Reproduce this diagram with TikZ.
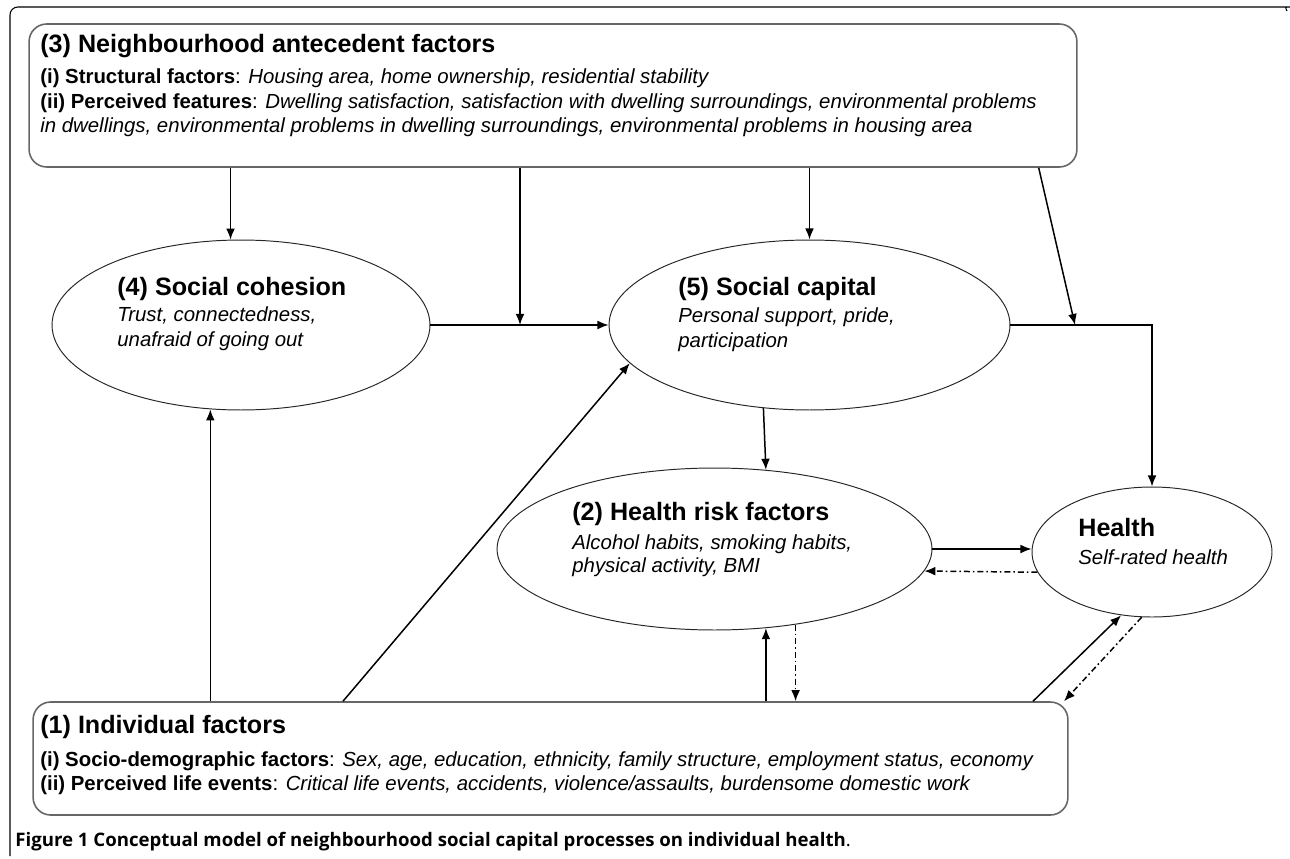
\documentclass[tikz,border=0pt]{standalone}
\usepackage{fontspec}
\setmainfont{Liberation Sans}
\newfontfamily\capfont{Open Sans}
\usetikzlibrary{arrows.meta,shapes.geometric}

\tikzset{
    frame/.style={line width=0.6pt},
    factorbox/.style={draw=black!60,line width=0.9pt,rounded corners=10pt,inner sep=0pt},
    oval/.style={draw=black!85,line width=0.55pt,ellipse,inner sep=0pt},
    hd/.style={anchor=base west,inner sep=0pt,font=\fontsize{14.3}{16}\selectfont\bfseries},
    tx/.style={anchor=base west,inner sep=0pt,font=\fontsize{11.6}{13}\selectfont},
    arr/.style={line width=0.85pt,-{Latex[length=6.3pt,width=5pt]}},
    fb/.style={arr,dash pattern=on 3.4pt off 1.7pt on 0.9pt off 1.7pt},
}

\begin{document}
\begin{tikzpicture}[x=0.02cm,y=-0.02cm]
    \useasboundingbox (0,0) rectangle (1290,858);
    \draw[frame,rounded corners=4.5pt] (10,856) -- (10,7) -- (1282,7) .. controls (1285,7) .. (1287,11);

    % boxes and ovals
    \node[factorbox,minimum width=20.96cm,minimum height=2.86cm] (nbh) at (553,95.5) {};
    \node[factorbox,minimum width=20.7cm,minimum height=2.26cm] (indiv) at (550.5,758.5) {};
    \node[oval,minimum width=7.56cm,minimum height=3.4cm] (cohesion) at (241,325) {};
    \node[oval,minimum width=8.02cm,minimum height=3.4cm] (capital) at (809.5,325) {};
    \node[oval,minimum width=8.7cm,minimum height=3.24cm] (risk) at (714.5,549) {};
    \node[oval,minimum width=4.8cm,minimum height=2.6cm] (health) at (1152,552) {};

    % (3)
    \node[hd] (t3) at (40,53) {(3) Neighbourhood antecedent factors};
    \node[tx] (t3a) at (40,84) {\textbf{(i) Structural factors}: \textit{Housing area, home ownership, residential stability}};
    \node[tx] (t3b) at (40,109) {\textbf{(ii) Perceived features}: \textit{Dwelling satisfaction, satisfaction with dwelling surroundings, environmental problems}};
    \node[tx] (t3c) at (40,133) {\textit{in dwellings, environmental problems in dwelling surroundings, environmental problems in housing area}};

    % (4) and (5)
    \node[hd] (t4) at (117,295.5) {(4) Social cohesion};
    \node[tx] (t4a) at (117,321) {\textit{Trust, connectedness,}};
    \node[tx] (t4b) at (117,346) {\textit{unafraid of going out}};
    \node[hd] (t5) at (678,295.5) {(5) Social capital};
    \node[tx] (t5a) at (678,322) {\textit{Personal support, pride,}};
    \node[tx] (t5b) at (678,347) {\textit{participation}};

    % (2) and health
    \node[hd] (t2) at (572,520.5) {(2) Health risk factors};
    \node[tx] (t2a) at (572,549) {\textit{Alcohol habits, smoking habits,}};
    \node[tx] (t2b) at (572,572) {\textit{physical activity, BMI}};
    \node[hd] (th) at (1078,536.5) {Health};
    \node[tx] (tha) at (1078,564) {\textit{Self-rated health}};

    % (1)
    \node[hd] (t1) at (40,733.5) {(1) Individual factors};
    \node[tx] (t1a) at (40,766) {\textbf{(i) Socio-demographic factors}: \textit{Sex, age, education, ethnicity, family structure, employment status, economy}};
    \node[tx] (t1b) at (40,790) {\textbf{(ii) Perceived life events}: \textit{Critical life events, accidents, violence/assaults, burdensome domestic work}};

    \node[anchor=base west,inner sep=0pt,font=\capfont\fontsize{10.6}{12}\selectfont] (cap) at (15,846)
        {\textbf{Figure 1 Conceptual model of neighbourhood social capital processes on individual health}.};

    % arrows from (3)
    \coordinate (mid) at (520,325);
    \coordinate (jn) at (1075,325);
    \draw[arr] (nbh.south -| cohesion.97) -- (cohesion.97);
    \draw[arr] (nbh.south -| mid) -- (mid);
    \draw[arr] (nbh.south -| capital.north) -- (capital.north);
    \draw[arr] ([xshift=-0.78cm]nbh.south east) -- (jn);

    \draw[arr] (cohesion.east) -- (capital.west);
    \draw[arr] (capital.east) -| (health.north);
    \draw[arr] (capital.241.5) -- (risk.57.3);
    \draw[arr] (risk.east) -- (risk.east -| health.west);
    \draw[fb] (health.190) -- (risk.-6.3);

    % arrows from (1)
    \draw[arr] (cohesion.250 |- indiv.north) -- (cohesion.250);
    \draw[arr] (343,0 |- indiv.north) -- (capital.192);
    \draw[arr] (risk.-57.3 |- indiv.north) -- (risk.-57.3);
    \draw[fb] (risk.-43.5) -- (risk.-43.5 |- indiv.north);
    \draw[arr] (1033,0 |- indiv.north) -- (health.244.5);
    \draw[fb] (health.261) -- (1064,0 |- indiv.north);
\end{tikzpicture}
\end{document}
